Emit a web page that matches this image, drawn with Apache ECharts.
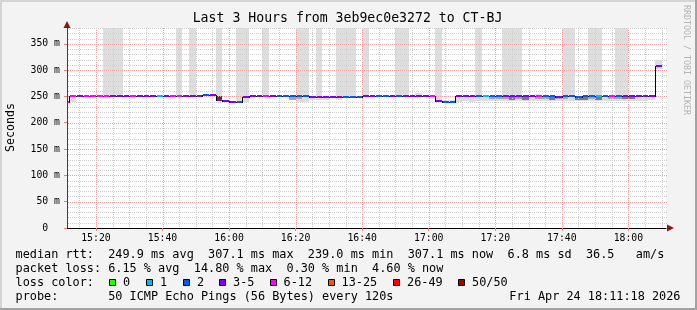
<!DOCTYPE html>
<html>
<head>
<meta charset="utf-8">
<title>SmokePing</title>
<script src="https://cdn.jsdelivr.net/npm/echarts@6/dist/echarts.min.js"></script>
<style>
html,body{margin:0;padding:0;background:#f3f3f3;}
#chart{width:697px;height:310px;}
</style>
</head>
<body>
<div id="chart"></div>
<script>
const _ = null;
// ---------------- data ----------------
const titleText = 'Last 3 Hours from 3eb9ec0e3272 to CT-BJ';
const yAxisName = 'Seconds';
const watermarkText = 'RRDTOOL / TOBI OETIKER';
const axisStart = '15:11:18';
const axisEnd = '18:11:18';
const yAxisMax = 380;
const xTickLabels = ['15:20','15:40','16:00','16:20','16:40','17:00','17:20','17:40','18:00'];
const yTickValues = [0,50,100,150,200,250,300,350];

const stepStarts = [
 '15:10','15:12','15:14','15:16','15:18','15:20','15:22','15:24','15:26','15:28',
 '15:30','15:32','15:34','15:36','15:38','15:40','15:42','15:44','15:46','15:48',
 '15:50','15:52','15:54','15:56','15:58','16:00','16:02','16:04','16:06','16:08',
 '16:10','16:12','16:14','16:16','16:18','16:20','16:22','16:24','16:26','16:28',
 '16:30','16:32','16:34','16:36','16:38','16:40','16:42','16:44','16:46','16:48',
 '16:50','16:52','16:54','16:56','16:58','17:00','17:02','17:04','17:06','17:08',
 '17:10','17:12','17:14','17:16','17:18','17:20','17:22','17:24','17:26','17:28',
 '17:30','17:32','17:34','17:36','17:38','17:40','17:42','17:44','17:46','17:48',
 '17:50','17:52','17:54','17:56','17:58','18:00','18:02','18:04','18:06','18:08'];
const lastStepEnd = '18:10';

// median rtt (ms) per 2-minute step
const medianRtt = [
 239,251,251,251,251,251,251,251,251,251,
 251,251,251,251,251,251,250,250,250,250,
 250,252,252,244,241,239,239,248.5,250,250,
 250,250,250,250,250,250,250,248,248,248,
 248,248,248,248,248,250,250,250,250,250,
 250,251.5,251.5,251.5,251.5,251.5,241.5,239,239,250,
 250,250,251,250,251,251,250,250,250,250,
 250,251,250,250,249,250,250,249,250,251,
 250,250,251,251,250,250,250,250,250,307.1];

// lost pings (of 50) per step
const lostPings = [
 7,7,4,7,7,7,7,4,4,4,
 7,4,4,4,1,4,7,7,4,4,
 4,2,4,4,4,4,2,4,4,4,
 7,4,2,2,2,2,2,4,4,4,
 4,4,2,2,2,4,4,2,2,4,
 2,4,4,4,4,7,4,2,2,4,
 4,4,2,1,2,2,4,4,4,4,
 4,7,2,2,4,2,2,2,2,2,
 1,2,7,2,4,4,4,4,4,4];

// smoke: lowest / highest ping (ms) per step (null = at median)
const smokeLow = [
 _,239,_,_,_,_,_,_,_,_,
 _,_,_,_,_,_,_,_,_,_,
 _,_,_,_,_,_,_,239,_,_,
 _,_,_,_,_,240,240,243,243,244,
 _,244,_,_,_,_,_,_,_,_,
 _,_,_,_,_,_,_,_,_,239,
 241,240,241,241,241,241,241,241,242,241,
 242,241,242,241,242,241,242,241,242,242,
 241,242,241,241,241,241,241,242,244,303];
const smokeHigh = [
 _,_,_,_,_,_,400,400,400,_,
 _,_,_,_,_,_,_,400,_,400,
 _,_,_,400,_,_,400,400,_,_,
 400,_,_,_,_,400,400,_,400,_,
 _,400,400,400,_,400,_,_,_,_,
 400,400,_,256,_,_,400,244,243,_,
 _,_,400,_,_,_,400,400,400,_,
 _,255,_,_,_,400,400,_,_,400,
 400,_,_,400,400,_,_,_,_,320];
// denser core of the smoke
const coreLow = [
 _,_,_,_,_,_,_,_,_,_,
 _,_,_,_,_,_,_,_,_,_,
 _,_,_,244,_,_,_,248.5,_,_,
 _,_,_,_,244,245,_,_,_,_,
 _,_,_,_,_,_,_,_,_,_,
 _,_,_,_,_,_,_,_,_,_,
 _,_,_,_,245,245,245,244,245,244,
 _,245,245,244,245,245,_,244,244,245,
 244,_,245,245,245,245,_,_,_,_];
const coreHigh = [
 _,_,_,_,_,_,_,_,_,_,
 _,_,_,_,_,_,_,_,_,_,
 _,_,_,250,_,_,_,251,_,_,
 _,_,_,_,250,250,_,_,_,_,
 _,_,_,_,_,_,_,_,_,_,
 _,_,_,_,_,_,_,_,_,_,
 _,_,_,_,251,251,250,248,250,248,
 _,251,250,248,249,250,_,248,248,251,
 248,_,251,251,250,250,_,_,_,_];
const coreDensity = [
 _,_,_,_,_,_,_,_,_,_,
 _,_,_,_,_,_,_,_,_,_,
 _,_,_,4,_,_,_,3,_,_,
 _,_,_,_,2,2,_,_,_,_,
 _,_,_,_,_,_,_,_,_,_,
 _,_,_,_,_,_,_,_,_,_,
 _,_,_,_,2,2,2,3,2,3,
 _,2,2,3,2,2,_,3,3,2,
 3,_,2,2,3,3,_,_,_,_];

const lossBinLabels = ['0','1','2','3-5','6-12','13-25','26-49','50/50'];
const lossBinUpper = [0,1,2,5,12,25,49,50];

const rttStats = ['median rtt:  249.9 ms avg','307.1 ms max','239.0 ms min','307.1 ms now','6.8 ms sd','36.5   am/s'];
const lossStats = ['packet loss: 6.15 % avg','14.80 % max','0.30 % min','4.60 % now'];
const lossColorTitle = 'loss color:';
const probeText = 'probe:       50 ICMP Echo Pings (56 Bytes) every 120s';
const stampText = 'Fri Apr 24 18:11:18 2026';

// ---------------- styles ----------------
const lossBinColors = ['#26ff00','#00b8ff','#0059ff','#7e00ff','#ff00ff','#ff5500','#ff0000','#a10000'];
const smokeFill = ['#dedede','#cfcfcf','#a6a6a6','#7a7a7a','#3c3c3c'];
const MINOR = '#cfcfcf', MAJOR = '#f4a0a0';
const FONT = '"DejaVu Sans Mono", monospace';
const LEG = 11.85;

// ---------------- build ----------------
const toMin = s => { const p = s.split(':').map(Number); return p[0]*60 + p[1] + (p[2]||0)/60 - 900; };
const X0 = toMin(axisStart), X1 = toMin(axisEnd);
const starts = stepStarts.map(toMin);
const ends = starts.slice(1).concat([toMin(lastStepEnd)]);
const xTickVals = xTickLabels.map(toMin);
const lossColor = n => { for (let k=0;k<lossBinUpper.length;k++) if (n <= lossBinUpper[k]) return lossBinColors[k]; return lossBinColors[lossBinColors.length-1]; };

const smokeItems = [];
const lineItems = [];
for (let i=0;i<stepStarts.length;i++){
  const lo = smokeLow[i] != null ? smokeLow[i] : medianRtt[i];
  const hi = smokeHigh[i] != null ? smokeHigh[i] : medianRtt[i];
  if (hi > lo) smokeItems.push([starts[i], ends[i], lo, Math.min(hi, yAxisMax), 0]);
  if (coreLow[i] != null) smokeItems.push([starts[i], ends[i], coreLow[i], coreHigh[i], coreDensity[i]]);
  lineItems.push([starts[i], ends[i], medianRtt[i], i>0 ? medianRtt[i-1] : medianRtt[i], lostPings[i]]);
}
const gridItems = [];
for (let m = 15; m <= 190; m += 5) gridItems.push([m, 0, m % 20 === 0 && m <= 180 ? 1 : 0]);
for (let v = 10; v <= yAxisMax; v += 10) gridItems.push([v, 1, v % 50 === 0 ? 1 : 0]);

function smokeRender(p, api){
  const a = api.coord([api.value(0), api.value(3)]);
  const b = api.coord([api.value(1), api.value(2)]);
  const x0 = Math.round(a[0]), x1 = Math.round(b[0]);
  const y0 = Math.round(a[1]), y1 = Math.round(b[1]);
  return {type:'rect', shape:{x:x0, y:y0, width:x1-x0, height:Math.max(1,y1-y0)}, style:{fill: smokeFill[api.value(4)]}};
}
function gridRender(p, api){
  const v = api.value(0), horiz = api.value(1), major = api.value(2);
  const cs = p.coordSys;
  let shape;
  if (horiz) {
    const y = Math.round(api.coord([X0, v])[1]) + 0.5;
    shape = {x1: cs.x + 1, y1: y, x2: cs.x + cs.width + 2, y2: y};
  } else {
    const x = Math.round(api.coord([v, 0])[0]) + 0.5;
    shape = {x1: x, y1: cs.y, x2: x, y2: cs.y + cs.height};
  }
  return {type:'line', shape, style:{stroke: major ? MAJOR : MINOR, lineWidth:1, lineDash:[1,1]}};
}
function blackRender(p, api){
  const s = api.value(0), e = api.value(1), v = api.value(2), pv = api.value(3);
  const a = api.coord([s, v]), b = api.coord([e, v]);
  const y = Math.round(a[1]);
  const xa = Math.round(a[0]), xb = Math.round(b[0]);
  const py = Math.round(api.coord([s, pv])[1]);
  const children = [{type:'rect', shape:{x:xa, y:y, width:xb-xa, height:1}, style:{fill:'#000'}}];
  if (py !== y) children.push({type:'rect', shape:{x:xa, y:Math.min(py,y), width:1, height:Math.abs(py-y)+1}, style:{fill:'#000'}});
  return {type:'group', children};
}
function colorRender(p, api){
  const s = api.value(0), e = api.value(1), v = api.value(2), n = api.value(4);
  const a = api.coord([s, v]), b = api.coord([e, v]);
  const y = Math.round(a[1]);
  const xa = Math.round(a[0]), xb = Math.round(b[0]);
  return {type:'rect', shape:{x:xa+1, y:y-1, width:xb-xa-1, height:2}, style:{fill: lossColor(n)}};
}

const txt = (text, x, y, size, extra) => Object.assign({type:'text', x, y, silent:true, z:100,
  style:{text, font: size + 'px ' + FONT, fill:'#000', align:'left', verticalAlign:'middle'}}, extra || {});

const graphics = [];
// frame
graphics.push({type:'rect', silent:true, z:90, shape:{x:0,y:0,width:697,height:2}, style:{fill:'#d4d4d4'}});
graphics.push({type:'rect', silent:true, z:90, shape:{x:0,y:0,width:2,height:310}, style:{fill:'#d4d4d4'}});
graphics.push({type:'rect', silent:true, z:91, shape:{x:0,y:308,width:697,height:2}, style:{fill:'#a2a2a2'}});
graphics.push({type:'rect', silent:true, z:91, shape:{x:695,y:0,width:2,height:310}, style:{fill:'#a2a2a2'}});
// title, axis name, watermark
graphics.push(txt(titleText, 347.5, 19, 13.2, {style:{text:titleText, font:'13.2px '+FONT, fill:'#000', align:'center', verticalAlign:'middle'}}));
graphics.push(txt(yAxisName, 10.5, 127.5, 11.6, {rotation: Math.PI/2, style:{text:yAxisName, font:'11.6px '+FONT, fill:'#000', align:'center', verticalAlign:'middle'}}));
graphics.push(txt(watermarkText, 686, 60, 8.3, {rotation: -Math.PI/2, style:{text:watermarkText, font:'8.3px '+FONT, fill:'#b4b4b4', align:'center', verticalAlign:'middle'}}));
// arrows
graphics.push({type:'polygon', silent:true, z:95, shape:{points:[[63.5,28],[70.5,28],[67,21]]}, style:{fill:'#8e1414'}});
graphics.push({type:'polygon', silent:true, z:95, shape:{points:[[667,224.5],[667,231.5],[674,228]]}, style:{fill:'#8e1414'}});
// legend lines (monospace, items separated by two spaces)
const LX = 15.5;
graphics.push(txt(rttStats.join('  '), LX, 254.5, LEG));
graphics.push(txt(lossStats.join('  '), LX, 268.5, LEG));
graphics.push(txt(lossColorTitle, LX, 282.5, LEG));
const boxX = [109,146,183,219,269.5,327.5,393,458];
lossBinLabels.forEach((t,i)=>{
  graphics.push({type:'rect', silent:true, z:100, shape:{x:Math.round(boxX[i])+0.5, y:279.5, width:6, height:6}, style:{fill:lossBinColors[i], stroke:'#000', lineWidth:1}});
  graphics.push(txt(t, boxX[i]+14, 282.5, LEG));
});
graphics.push(txt(probeText, LX, 296.5, LEG));
graphics.push(txt(stampText, 680.5, 296.5, LEG, {style:{text:stampText, font:LEG+'px '+FONT, fill:'#000', align:'right', verticalAlign:'middle'}}));

const chart = echarts.init(document.getElementById('chart'), null, {renderer:'canvas', width:697, height:310});
chart.setOption({
  backgroundColor: '#f3f3f3',
  animation: false,
  textStyle: {fontFamily: FONT},
  grid: {left: 67, right: 31, top: 28, bottom: 82, backgroundColor:'#ffffff', show:true, borderWidth:0},
  xAxis: {
    type:'value', min:X0, max:X1, z:10,
    axisLine:{show:true, onZero:false, lineStyle:{color:'#000', width:1}},
    axisTick:{show:true, customValues:xTickVals, length:3, lineStyle:{color:'#e88080'}},
    axisLabel:{show:true, customValues:xTickVals, formatter: v => { const k = xTickVals.findIndex(t => Math.abs(t - v) < 1e-6); return k >= 0 ? xTickLabels[k] : ''; },
      fontFamily: FONT, fontSize: 9.8, color:'#000', margin:5},
    splitLine:{show:false}
  },
  yAxis: {
    type:'value', min:0, max:yAxisMax, z:10,
    axisLine:{show:true, onZero:false, lineStyle:{color:'#404040', width:1}},
    axisTick:{show:true, customValues:yTickValues, length:3, lineStyle:{color:'#e88080'}},
    axisLabel:{show:true, customValues:yTickValues, formatter: v => v === 0 ? '0  ' : v + ' m',
      fontFamily: FONT, fontSize: 9.8, color:'#000', margin:7},
    splitLine:{show:false}
  },
  series: [
    {type:'custom', name:'smoke', z:1, silent:true, clip:true, renderItem: smokeRender, data: smokeItems},
    {type:'custom', name:'grid', z:2, silent:true, clip:false, renderItem: gridRender, data: gridItems},
    {type:'custom', name:'median', z:3, silent:true, clip:true, renderItem: blackRender, data: lineItems},
    {type:'custom', name:'loss', z:4, silent:true, clip:true, renderItem: colorRender, data: lineItems}
  ],
  graphic: graphics
});
</script>
</body>
</html>
